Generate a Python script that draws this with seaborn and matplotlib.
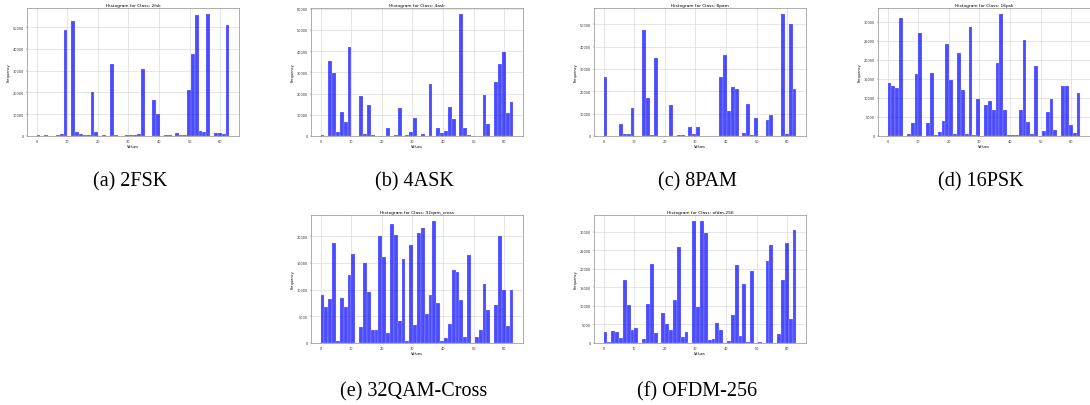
import numpy as np
import matplotlib
matplotlib.use('Agg')
import matplotlib.pyplot as plt
from matplotlib.ticker import MultipleLocator
import seaborn as sns

# 50 bins over the value range 0..63, counts
n_bins = 50
value_range = (0, 63)

counts_2fsk = [500, 0, 300, 200, 200, 400, 700, 48500, 0, 53000,
               1700, 700, 600, 600, 20000, 1700, 0, 500, 0, 33000,
               300, 200, 0, 600, 300, 300, 700, 30700, 200, 0,
               16700, 10000, 0, 600, 600, 0, 1300, 500, 500, 21000,
               37500, 55500, 2200, 2000, 56000, 0, 1500, 1300, 1000, 51000]

counts_4ask = [600, 0, 35300, 29500, 1800, 11200, 6800, 42000, 0, 200,
               18700, 800, 14700, 700, 0, 0, 0, 4000, 0, 300,
               13000, 0, 300, 1800, 8400, 0, 1000, 0, 24300, 0,
               3800, 1500, 2500, 13700, 7800, 0, 57500, 4000, 400, 0,
               0, 0, 19200, 5500, 0, 25300, 33800, 39700, 11000, 15900]

counts_8pam = [26500, 0, 200, 200, 5400, 700, 1000, 12500, 0, 0,
               47600, 17000, 600, 35000, 0, 0, 0, 14000, 0, 300,
               300, 0, 3900, 1000, 4100, 0, 150, 0, 100, 0,
               26500, 36000, 11200, 22000, 21000, 0, 1300, 14500, 500, 8200,
               0, 0, 7200, 9500, 0, 0, 54500, 1000, 50000, 21000]

counts_16psk = [13900, 13000, 12500, 31000, 0, 600, 3500, 16200, 27000, 0,
                3400, 16500, 300, 1100, 4000, 24200, 14700, 400, 21800, 12200,
                400, 28500, 200, 9800, 0, 8100, 9200, 6700, 19100, 32000,
                6800, 200, 200, 200, 6700, 25200, 3600, 600, 18500, 0,
                1200, 6200, 9800, 1500, 0, 13000, 13200, 3000, 700, 11300]

counts_32qam = [9000, 6700, 8300, 18700, 400, 8500, 6800, 12800, 16700, 0,
                2900, 15000, 9500, 2500, 2400, 20000, 16000, 1900, 22200, 20200,
                4200, 15700, 400, 18300, 3300, 20600, 21600, 5400, 9000, 22800,
                7400, 400, 1000, 3600, 13700, 13300, 8000, 1100, 16400, 0,
                1200, 2500, 11100, 6200, 0, 7200, 20000, 10000, 3100, 10000]

counts_ofdm = [3000, 400, 3200, 3100, 1300, 17100, 10200, 3400, 4100, 0,
               1000, 10500, 21200, 2600, 0, 8100, 5200, 3400, 11700, 25800,
               1500, 2900, 0, 32800, 9700, 32900, 29800, 700, 1200, 5500,
               3500, 0, 600, 7600, 21000, 2000, 16000, 400, 19300, 0,
               300, 100, 22000, 26500, 0, 2300, 17000, 27000, 6400, 30400]

class_names = ['2fsk', '4ask', '8pam', '16psk', '32qam_cross', 'ofdm-256']
captions = ['(a) 2FSK', '(b) 4ASK', '(c) 8PAM', '(d) 16PSK',
            '(e) 32QAM-Cross', '(f) OFDM-256']
all_counts = [counts_2fsk, counts_4ask, counts_8pam, counts_16psk,
              counts_32qam, counts_ofdm]
y_steps = [10000, 10000, 10000, 5000, 5000, 5000]

sns.set_style('whitegrid')
plt.rcParams['text.color'] = 'black'
plt.rcParams['axes.labelcolor'] = 'black'
plt.rcParams['xtick.color'] = '#333333'
plt.rcParams['ytick.color'] = '#333333'

W, H = 1090, 406
fig = plt.figure(figsize=(W / 100, H / 100), dpi=100)

# panel placement in pixels: (left, top) of axes, caption centre x
col_left = [27, 311, 594, 878]
col_center = [130, 414, 697, 981]
slots = [(0, 0), (1, 0), (2, 0), (3, 0), (1, 1), (2, 1)]
row_top = [9, 216]
caption_y = [182, 392]
ax_w, ax_h = 212, 128

edges = np.linspace(value_range[0], value_range[1], n_bins + 1)
mids = (edges[:-1] + edges[1:]) / 2

for name, cap, counts, step, (col, row) in zip(class_names, captions, all_counts,
                                                y_steps, slots):
    left = col_left[col] / W
    bottom = 1 - (row_top[row] + ax_h) / H
    ax = fig.add_axes([left, bottom, ax_w / W, ax_h / H])
    sns.histplot(x=mids, weights=counts, bins=n_bins, binrange=value_range,
                 color='blue', alpha=0.7, edgecolor='#e0e0ff', linewidth=0.15, ax=ax)
    ax.set_title(f'Histogram for Class: {name}', fontsize=3.2, pad=1.5)
    ax.set_xlabel('Values', fontsize=2.6, labelpad=1)
    ax.set_ylabel('Frequency', fontsize=2.6, labelpad=1.5)
    ax.xaxis.set_major_locator(MultipleLocator(10))
    ax.yaxis.set_major_locator(MultipleLocator(step))
    ax.tick_params(labelsize=2.5, length=1, width=0.25, pad=1,
                   bottom=True, left=True)
    ax.grid(True, color='#d8d8d8', linewidth=0.45)
    for sp in ax.spines.values():
        sp.set_color('#808080')
        sp.set_linewidth(0.45)
    fig.text(col_center[col] / W, 1 - caption_y[row] / H, cap, color='black',
             family='Liberation Serif', fontsize=14.5, ha='center', va='center')

fig.savefig('out.png', dpi=100)
